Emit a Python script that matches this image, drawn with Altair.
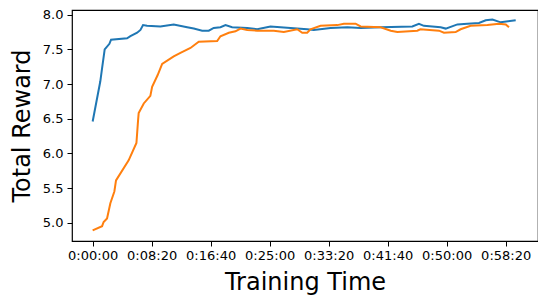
import altair as alt
import pandas as pd

# Series A (blue)
blue_t = [0, 65, 80, 102, 142, 156, 292, 320, 377, 405, 427, 461, 574, 687, 801, 857, 928, 984,
          1026, 1083, 1126, 1182, 1310, 1394, 1507, 1677, 1818, 1874, 2016, 2158, 2271, 2441,
          2709, 2765, 2807, 2949, 2992, 3091, 3176, 3274, 3331, 3388, 3458, 3585]
blue_v = [6.46, 7.04, 7.23, 7.50, 7.58, 7.64, 7.66, 7.69, 7.74, 7.78, 7.85, 7.84, 7.83, 7.86,
          7.82, 7.80, 7.77, 7.77, 7.81, 7.82, 7.85, 7.82, 7.81, 7.79, 7.83, 7.81, 7.79, 7.78,
          7.81, 7.82, 7.81, 7.82, 7.83, 7.87, 7.84, 7.82, 7.80, 7.86, 7.87, 7.88, 7.92, 7.93,
          7.89, 7.92]

# Series B (orange)
orange_t = [0, 80, 93, 122, 150, 184, 198, 305, 371, 385, 390, 433, 489, 504, 551, 589, 687,
            744, 829, 899, 1055, 1083, 1154, 1210, 1253, 1310, 1394, 1535, 1620, 1734, 1776,
            1818, 1846, 1931, 2073, 2129, 2228, 2271, 2441, 2526, 2582, 2751, 2777, 2935, 2977,
            3076, 3118, 3203, 3345, 3444, 3501, 3528]
orange_v = [4.89, 4.95, 5.01, 5.06, 5.28, 5.45, 5.61, 5.90, 6.15, 6.48, 6.58, 6.72, 6.83, 6.96,
            7.13, 7.29, 7.40, 7.45, 7.52, 7.61, 7.62, 7.69, 7.74, 7.76, 7.80, 7.78, 7.77, 7.77,
            7.75, 7.79, 7.74, 7.74, 7.79, 7.84, 7.85, 7.87, 7.87, 7.83, 7.82, 7.77, 7.75, 7.77,
            7.79, 7.77, 7.74, 7.75, 7.79, 7.84, 7.85, 7.87, 7.86, 7.82]

x_ticks = [0, 500, 1000, 1500, 2000, 2500, 3000, 3500]
y_ticks = [5.0, 5.5, 6.0, 6.5, 7.0, 7.5, 8.0]

df = pd.concat([
    pd.DataFrame({"t": blue_t, "v": blue_v, "s": "A", "o": range(len(blue_t))}),
    pd.DataFrame({"t": orange_t, "v": orange_v, "s": "B", "o": range(len(orange_t))}),
])

label_expr = ("floor(datum.value/3600) + ':' + pad('' + floor((datum.value%3600)/60), 2, '0', 'left')"
              " + ':' + pad('' + (datum.value%60), 2, '0', 'left')")

chart = alt.Chart(df).mark_line(strokeWidth=2).encode(
    x=alt.X("t:Q", scale=alt.Scale(domain=[-175, 3774], nice=False, zero=False),
            axis=alt.Axis(title="Training Time", values=x_ticks, labelExpr=label_expr,
                          grid=False, domain=False, tickSize=5, tickColor="black",
                          labelPadding=3, labelFontSize=13, labelColor="black",
                          titleFontSize=24, titleFontWeight="normal", titleColor="black",
                          titlePadding=8, labelFont="DejaVu Sans", titleFont="DejaVu Sans")),
    y=alt.Y("v:Q", scale=alt.Scale(domain=[4.736, 8.068], nice=False, zero=False),
            axis=alt.Axis(title="Total Reward", values=y_ticks, format=".1f",
                          grid=False, domain=False, tickSize=5, tickColor="black",
                          labelPadding=4, labelFontSize=13, labelColor="black",
                          titleFontSize=24, titleFontWeight="normal", titleColor="black",
                          titlePadding=8, labelFont="DejaVu Sans", titleFont="DejaVu Sans")),
    color=alt.Color("s:N", scale=alt.Scale(domain=["A", "B"], range=["#1f77b4", "#ff7f0e"]),
                    legend=None),
    order="o:Q",
).properties(
    width=466, height=231,
    autosize=alt.AutoSizeParams(type="none"),
    padding={"left": 64, "top": 2, "right": 0, "bottom": 63},
).configure_view(stroke="black", strokeWidth=1.2)

chart.save("out.html", embed_options={"renderer": "svg", "actions": False})
